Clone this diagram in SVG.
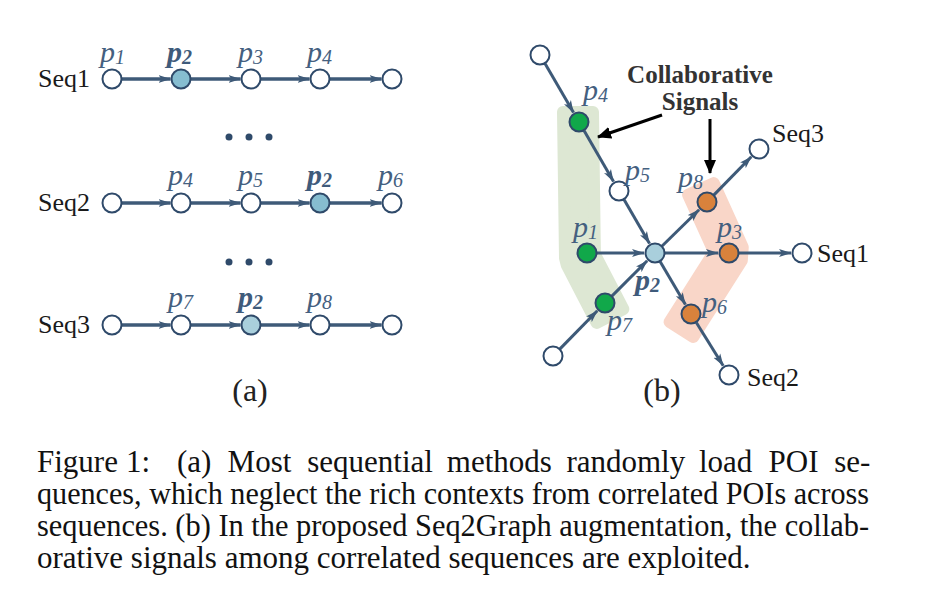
<svg xmlns="http://www.w3.org/2000/svg" width="926" height="602" viewBox="0 0 926 602">
<defs>
<style>
.t{font-family:"Liberation Serif","Times New Roman",serif;}
.seq{font-family:"Liberation Serif","Times New Roman",serif;font-size:26px;fill:#1a1a1a;}
.p{font-family:"Liberation Serif","Times New Roman",serif;font-size:30px;font-style:italic;fill:#44607f;}
.pb{font-family:"Liberation Serif","Times New Roman",serif;font-size:30px;font-style:italic;font-weight:bold;fill:#3f5b7b;}
.sub{font-size:20px;}
.cap{font-family:"Liberation Serif","Times New Roman",serif;font-size:31px;fill:#111;}
.nw{fill:#fff;stroke:#2f4a6a;stroke-width:2;}
.ng{fill:#11a84a;stroke:#2f4a6a;stroke-width:2;}
.no{fill:#d9823c;stroke:#2f4a6a;stroke-width:2;}
.nb{fill:#86bdd0;stroke:#2f4a6a;stroke-width:2;}
.nl{fill:#a9cfdc;stroke:#2f4a6a;stroke-width:2;}
.e{stroke:#3e5a78;stroke-width:3.3;fill:none;marker-end:url(#ah);}
.eb{stroke:#3e5a78;stroke-width:3;fill:none;marker-end:url(#ah);}
.ek{stroke:#000;stroke-width:3;fill:none;marker-end:url(#ak);}
</style>
<marker id="ah" markerUnits="userSpaceOnUse" markerWidth="13" markerHeight="9" refX="12" refY="4.5" orient="auto">
<path d="M0,0.5 L12.5,4.5 L0,8.5 L3,4.5 z" fill="#3e5a78"/>
</marker>
<marker id="ak" markerUnits="userSpaceOnUse" markerWidth="14" markerHeight="12" refX="13" refY="6" orient="auto">
<path d="M0,0 L14,6 L0,12 z" fill="#000"/>
</marker>
</defs>
<rect width="926" height="602" fill="#fff"/>

<!-- Panel (a) -->
<g id="a-labels">
<text class="seq" x="38" y="87">Seq1</text>
<text class="seq" x="38" y="211">Seq2</text>
<text class="seq" x="38" y="333">Seq3</text>
<text class="p" x="100" y="62">p<tspan class="sub" dy="2">1</tspan></text>
<text class="pb" x="167" y="62">p<tspan class="sub" dy="2">2</tspan></text>
<text class="p" x="238" y="62">p<tspan class="sub" dy="2">3</tspan></text>
<text class="p" x="307" y="62">p<tspan class="sub" dy="2">4</tspan></text>
<text class="p" x="168" y="185">p<tspan class="sub" dy="2">4</tspan></text>
<text class="p" x="238" y="185">p<tspan class="sub" dy="2">5</tspan></text>
<text class="pb" x="307" y="185">p<tspan class="sub" dy="2">2</tspan></text>
<text class="p" x="378" y="185">p<tspan class="sub" dy="2">6</tspan></text>
<text class="p" x="168" y="307">p<tspan class="sub" dy="2">7</tspan></text>
<text class="pb" x="238" y="307">p<tspan class="sub" dy="2">2</tspan></text>
<text class="p" x="307" y="307">p<tspan class="sub" dy="2">8</tspan></text>
<g fill="#2f4a6a">
<circle cx="229" cy="137" r="3.5"/><circle cx="249" cy="137" r="3.5"/><circle cx="269" cy="137" r="3.5"/>
<circle cx="229" cy="262" r="3.5"/><circle cx="249" cy="262" r="3.5"/><circle cx="269" cy="262" r="3.5"/>
</g>
<text class="t" x="250" y="401" font-size="32" text-anchor="middle" fill="#222">(a)</text>
</g>

<g id="a-connectors">
<line class="e" x1="122" y1="79" x2="170.5" y2="79"/>
<line class="e" x1="191" y1="79" x2="240.5" y2="79"/>
<line class="e" x1="261" y1="79" x2="309.5" y2="79"/>
<line class="e" x1="330" y1="79" x2="381.5" y2="79"/>
<line class="e" x1="122" y1="203" x2="170.5" y2="203"/>
<line class="e" x1="191" y1="203" x2="240.5" y2="203"/>
<line class="e" x1="261" y1="203" x2="309.5" y2="203"/>
<line class="e" x1="330" y1="203" x2="381.5" y2="203"/>
<line class="e" x1="122" y1="325" x2="170.5" y2="325"/>
<line class="e" x1="191" y1="325" x2="240.5" y2="325"/>
<line class="e" x1="261" y1="325" x2="309.5" y2="325"/>
<line class="e" x1="330" y1="325" x2="381.5" y2="325"/>
</g>

<g id="a-seq1-nodes">
<circle class="nw" cx="112" cy="79" r="9.5"/>
<circle class="nb" cx="181" cy="79" r="9.5"/>
<circle class="nw" cx="251" cy="79" r="9.5"/>
<circle class="nw" cx="320" cy="79" r="9.5"/>
<circle class="nw" cx="392" cy="79" r="9.5"/>
</g>
<g id="a-seq2-nodes">
<circle class="nw" cx="112" cy="203" r="9.5"/>
<circle class="nw" cx="181" cy="203" r="9.5"/>
<circle class="nw" cx="251" cy="203" r="9.5"/>
<circle class="nb" cx="320" cy="203" r="9.5"/>
<circle class="nw" cx="392" cy="203" r="9.5"/>
</g>
<g id="a-seq3-nodes">
<circle class="nw" cx="112" cy="325" r="9.5"/>
<circle class="nw" cx="181" cy="325" r="9.5"/>
<circle class="nl" cx="251" cy="325" r="9.5"/>
<circle class="nw" cx="320" cy="325" r="9.5"/>
<circle class="nw" cx="392" cy="325" r="9.5"/>
</g>

<!-- Panel (b) -->
<g id="b-bands">
<polygon points="563,112 593,112 594.9,254.3 623.3,309.1 596.7,322.9 566.7,264.9 565,258" fill="#dde7d3" stroke="#dde7d3" stroke-width="12" stroke-linejoin="round"/>
<polygon points="713.7,183.1 742.75,247.2 741.8,260.5 693.2,337 669.6,322 714.1,251.9 688.1,194.7" fill="#f9d6c8" stroke="#f9d6c8" stroke-width="12" stroke-linejoin="round"/>
</g>

<g id="b-connectors">
<line class="eb" x1="545" y1="63.6" x2="573.5" y2="112.5"/>
<line class="eb" x1="584" y1="130.6" x2="613.5" y2="181.5"/>
<line class="eb" x1="624" y1="199.6" x2="649.5" y2="243.5"/>
<line class="eb" x1="597" y1="253" x2="644" y2="253"/>
<line class="eb" x1="560" y1="348.9" x2="597.3" y2="310.8"/>
<line class="eb" x1="612.1" y1="295.9" x2="647.2" y2="260.8"/>
<line class="eb" x1="662.1" y1="246" x2="699.1" y2="209.7"/>
<line class="eb" x1="714" y1="194.9" x2="751.3" y2="156.8"/>
<line class="eb" x1="665" y1="253" x2="718" y2="253"/>
<line class="eb" x1="739" y1="253" x2="791" y2="253"/>
<line class="eb" x1="660.1" y1="261.6" x2="685.4" y2="304.5"/>
<line class="eb" x1="696.3" y1="322.5" x2="723.2" y2="365.7"/>
<line class="ek" x1="662" y1="115" x2="598" y2="137"/>
<line class="ek" x1="710" y1="119" x2="710" y2="173"/>
</g>

<g id="node-t0"><circle class="nw" cx="540" cy="55" r="9.5"/></g>
<g id="node-p4"><circle class="ng" cx="579" cy="122" r="9.5"/><text class="p" x="583" y="100">p<tspan class="sub" dy="2">4</tspan></text></g>
<g id="node-p5"><circle class="nw" cx="619" cy="191" r="9.5"/><text class="p" x="625" y="180">p<tspan class="sub" dy="2">5</tspan></text></g>
<g id="node-p2"><circle class="nl" cx="655" cy="253" r="9.5"/><text class="pb" x="635" y="290">p<tspan class="sub" dy="2">2</tspan></text></g>
<g id="node-p1"><circle class="ng" cx="587" cy="253" r="9.5"/><text class="p" x="573" y="237">p<tspan class="sub" dy="2">1</tspan></text></g>
<g id="node-p7"><circle class="ng" cx="605" cy="303" r="9.5"/><text class="p" x="607" y="330">p<tspan class="sub" dy="2">7</tspan></text></g>
<g id="node-b0"><circle class="nw" cx="553" cy="356" r="9.5"/></g>
<g id="node-p8"><circle class="no" cx="707" cy="202" r="9.5"/><text class="p" x="678" y="187">p<tspan class="sub" dy="2">8</tspan></text></g>
<g id="node-seq3"><circle class="nw" cx="759" cy="149" r="9.5"/><text class="seq" x="772" y="142">Seq3</text></g>
<g id="node-p3"><circle class="no" cx="729" cy="253" r="9.5"/><text class="p" x="717" y="237">p<tspan class="sub" dy="2">3</tspan></text></g>
<g id="node-seq1"><circle class="nw" cx="802" cy="253" r="9.5"/><text class="seq" x="817" y="262">Seq1</text></g>
<g id="node-p6"><circle class="no" cx="691" cy="314" r="9.5"/><text class="p" x="702" y="312">p<tspan class="sub" dy="2">6</tspan></text></g>
<g id="node-seq2"><circle class="nw" cx="729" cy="375" r="9.5"/><text class="seq" x="747" y="386">Seq2</text></g>

<g id="collab-label">
<text class="t" x="700" y="83" font-size="25" font-weight="bold" text-anchor="middle" fill="#333">Collaborative</text>
<text class="t" x="700" y="110" font-size="25" font-weight="bold" text-anchor="middle" fill="#333">Signals</text>
</g>
<text class="t" x="662" y="401" font-size="32" text-anchor="middle" fill="#222">(b)</text>

<g id="caption">
<text class="cap" y="472"><tspan x="37">Figure</tspan><tspan x="126">1:</tspan><tspan x="177">(a)</tspan><tspan x="227.6">Most</tspan><tspan x="307.2">sequential</tspan><tspan x="446.8">methods</tspan><tspan x="566.4">randomly</tspan><tspan x="699">load</tspan><tspan x="768.6">POI</tspan><tspan x="834.2">se-</tspan></text>
<text class="cap" x="37" y="504" textLength="832" lengthAdjust="spacingAndGlyphs">quences, which neglect the rich contexts from correlated POIs across</text>
<text class="cap" x="37" y="536" textLength="832" lengthAdjust="spacingAndGlyphs">sequences. (b) In the proposed Seq2Graph augmentation, the collab-</text>
<text class="cap" x="37" y="568">orative signals among correlated sequences are exploited.</text>
</g>
</svg>
